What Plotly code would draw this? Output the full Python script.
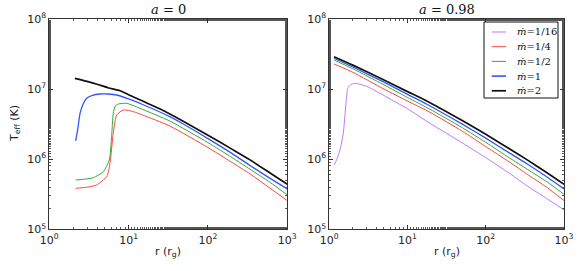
import plotly.graph_objects as go

# ---------------- data ----------------
# a = 0 panel
r_a0_m2 = [2.1, 3, 4, 5.5, 7.8, 10, 15, 25, 50, 100, 200, 339, 600, 1000]
lt_a0_m2 = [7.154, 7.11, 7.07, 7.02, 6.977, 6.92, 6.829, 6.716, 6.535, 6.343, 6.144, 5.99, 5.807, 5.643]

r_a0_m1 = [2.15, 2.3, 2.44, 2.7, 2.96, 3.5, 4.36, 5.5, 7.07, 10, 15, 33, 50, 100, 200, 339, 600, 1000]
lt_a0_m1 = [6.26, 6.45, 6.655, 6.80, 6.869, 6.91, 6.93, 6.93, 6.916, 6.86, 6.78, 6.607, 6.495, 6.294, 6.083, 5.91, 5.73, 5.576]

r_a0_mh = [2.15, 2.8, 3.59, 4.8, 5.7, 6.1, 6.4, 6.8, 7.4, 9.45, 15, 33, 100, 200, 339, 600, 1000]
lt_a0_mh = [5.703, 5.715, 5.736, 5.822, 5.989, 6.321, 6.655, 6.76, 6.787, 6.797, 6.71, 6.545, 6.236, 6.025, 5.857, 5.673, 5.49]

r_a0_mq = [2.15, 3, 3.95, 5.3, 5.6, 5.9, 6.4, 7.07, 8.6, 11.5, 15, 33, 100, 200, 339, 600, 1000]
lt_a0_mq = [5.585, 5.60, 5.632, 5.75, 5.84, 5.989, 6.369, 6.631, 6.702, 6.678, 6.63, 6.474, 6.166, 5.955, 5.79, 5.59, 5.409]

# a = 0.98 panel
r_a98 = [1.15, 2, 5, 10, 19.4, 50, 100, 200, 339, 600, 1000]
lt_a98_m2 = [7.462, 7.342, 7.13, 6.964, 6.806, 6.551, 6.355, 6.15, 5.99, 5.81, 5.643]
lt_a98_m1 = [7.44, 7.315, 7.10, 6.925, 6.759, 6.50, 6.30, 6.09, 5.932, 5.75, 5.576]
lt_a98_mh = [7.415, 7.29, 7.06, 6.88, 6.712, 6.45, 6.24, 6.02, 5.857, 5.68, 5.50]
lt_a98_mq = [7.358, 7.24, 7.00, 6.83, 6.669, 6.40, 6.18, 5.96, 5.785, 5.60, 5.41]

r_a98_m16 = [1.15, 1.25, 1.37, 1.51, 1.62, 1.72, 1.85, 2.13, 3, 4.3, 6.28, 10, 19.4, 50, 100, 200, 339, 600, 1000]
lt_a98_m16 = [5.917, 6.0, 6.131, 6.37, 6.749, 7.01, 7.06, 7.083, 7.04, 6.95, 6.845, 6.72, 6.512, 6.233, 6.022, 5.80, 5.618, 5.44, 5.277]

labels = ["<i>ṁ</i>=1/16", "<i>ṁ</i>=1/4", "<i>ṁ</i>=1/2", "<i>ṁ</i>=1", "<i>ṁ</i>=2"]
colors = ["#bf78ff", "#ff4444", "#33aa33", "#3355ff", "#111111"]
widths = [1, 1, 1, 1.3, 1.7]

xticks = [1, 10, 100, 1000]
xticktext = ["10<sup>0</sup>", "10<sup>1</sup>", "10<sup>2</sup>", "10<sup>3</sup>"]
yticks = [1e5, 1e6, 1e7, 1e8]
yticktext = ["10<sup>5</sup>", "10<sup>6</sup>", "10<sup>7</sup>", "10<sup>8</sup>"]

fig = go.Figure()

def add(r, lt, i, xa, ya):
    fig.add_trace(go.Scatter(
        x=r, y=[10 ** v for v in lt], mode="lines",
        line=dict(color=colors[i], width=widths[i], shape="spline", smoothing=0.6),
        name=labels[i], showlegend=False, hoverinfo="skip", xaxis=xa, yaxis=ya))

add(r_a0_mq, lt_a0_mq, 1, "x", "y")
add(r_a0_mh, lt_a0_mh, 2, "x", "y")
add(r_a0_m1, lt_a0_m1, 3, "x", "y")
add(r_a0_m2, lt_a0_m2, 4, "x", "y")

add(r_a98_m16, lt_a98_m16, 0, "x2", "y2")
add(r_a98, lt_a98_mq, 1, "x2", "y2")
add(r_a98, lt_a98_mh, 2, "x2", "y2")
add(r_a98, lt_a98_m1, 3, "x2", "y2")
add(r_a98, lt_a98_m2, 4, "x2", "y2")

W, H = 581, 271
def px(x):
    return x / W
def py(y):
    return 1 - y / H

axcommon = dict(type="log", showgrid=False, zeroline=False, showline=True,
                linecolor="#333", linewidth=1, mirror="allticks", automargin=False,
                ticks="inside", ticklen=4, tickcolor="#333",
                minor=dict(ticks="inside", ticklen=2, tickcolor="#555", showgrid=False),
                tickfont=dict(family="DejaVu Sans", size=11, color="#222"))

fig.update_layout(
    width=W, height=H, autosize=False,
    margin=dict(l=0, r=0, t=0, b=0, pad=0, autoexpand=False),
    paper_bgcolor="white", plot_bgcolor="white",
    xaxis=dict(domain=[px(49.3), px(287.3)], range=[0, 3], tickvals=xticks, ticktext=xticktext,
               anchor="y", **axcommon),
    yaxis=dict(domain=[py(229.3), py(19)], range=[5, 8], tickvals=yticks, ticktext=yticktext,
               anchor="x", **axcommon),
    xaxis2=dict(domain=[px(329.3), px(564)], range=[0, 3], tickvals=xticks, ticktext=xticktext,
                anchor="y2", **axcommon),
    yaxis2=dict(domain=[py(229.3), py(19)], range=[5, 8], tickvals=yticks, ticktext=yticktext,
                anchor="x2", **axcommon),
    showlegend=False,
)

# panel titles and axis titles
for cx, t in [(168, "<i>a</i> = 0"), (447, "<i>a</i> = 0.98")]:
    fig.add_annotation(xref="paper", yref="paper", x=px(cx), y=py(10), text=t,
                       showarrow=False, xanchor="center", yanchor="middle",
                       font=dict(family="DejaVu Serif", size=13, color="#111"))
for cx in [168, 447]:
    fig.add_annotation(xref="paper", yref="paper", x=px(cx), y=py(252),
                       text="r (r<sub>g</sub>)", showarrow=False,
                       xanchor="center", yanchor="middle",
                       font=dict(family="DejaVu Sans", size=11, color="#222"))
fig.add_annotation(xref="paper", yref="paper", x=px(15), y=py(124),
                   text="T<sub>eff</sub> (K)", showarrow=False, textangle=-90,
                   xanchor="center", yanchor="middle",
                   font=dict(family="DejaVu Sans", size=11, color="#222"))

# legend (drawn as a framed box in the right panel)
leg_x0, leg_x1, leg_y0, leg_y1 = 484, 558, 22, 98
fig.add_shape(type="rect", xref="paper", yref="paper",
              x0=px(leg_x0), x1=px(leg_x1), y0=py(leg_y1), y1=py(leg_y0),
              line=dict(color="#111", width=1), fillcolor="white", layer="above")
for i, lab in enumerate(labels):
    yy = 32 + i * 14.7
    fig.add_shape(type="line", xref="paper", yref="paper",
                  x0=px(491.7), x1=px(506), y0=py(yy), y1=py(yy),
                  line=dict(color=colors[i], width=widths[i] + (0.3 if i == 3 else 0)),
                  layer="above")
    fig.add_annotation(xref="paper", yref="paper", x=px(515), y=py(yy), text=lab,
                       showarrow=False, xanchor="left", yanchor="middle",
                       font=dict(family="DejaVu Serif", size=10, color="#111"))

fig.write_html(
    "out.html",
    config={"displayModeBar": False, "staticPlot": True},
    post_script="document.body.style.margin='0px';document.body.style.padding='0px';",
)
